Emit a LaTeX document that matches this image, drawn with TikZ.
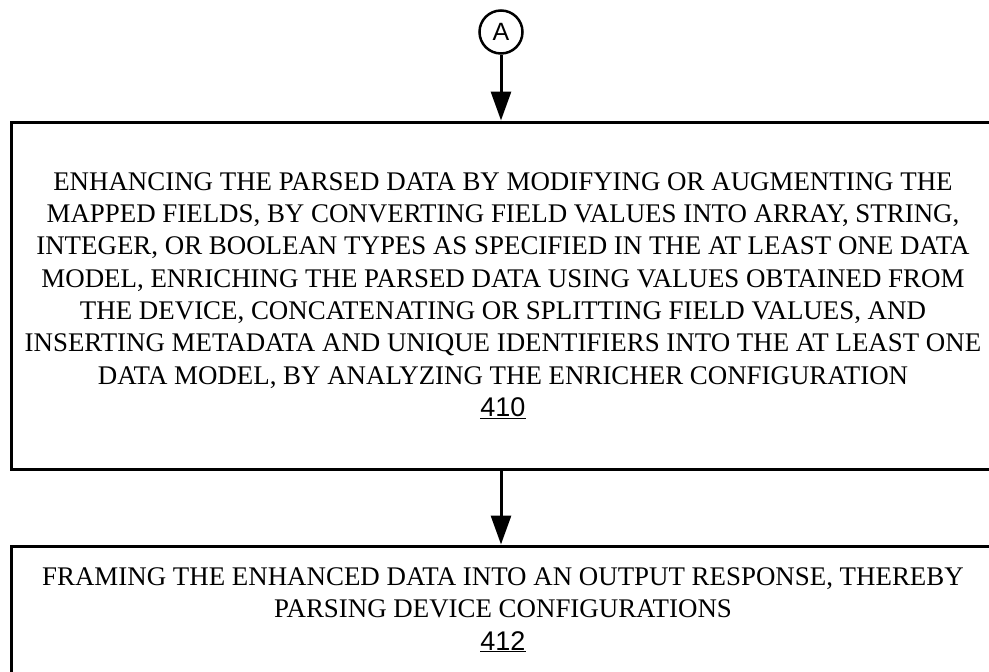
\documentclass[tikz,border=0pt]{standalone}
\usepackage{fontspec}
\setmainfont{Liberation Serif}
\newfontfamily\numfont{Liberation Sans}
\usetikzlibrary{arrows.meta}
\tikzset{
  stepbox/.style={draw, line width=3pt, align=center, inner sep=0pt,
    minimum width=984pt, font=\fontsize{26.9}{32.3}\selectfont},
  flow/.style={line width=3pt, -{Triangle[length=29pt, width=20pt]}},
  conn/.style={draw, circle, line width=2.5pt, minimum size=43pt, inner sep=0pt,
    font=\numfont\fontsize{25}{25}\selectfont},
}
\newcommand{\refnum}[1]{{\numfont\fontsize{27}{32.3}\selectfont\underline{#1}}}
\begin{document}
\begin{tikzpicture}[x=1pt, y=-1pt]
  \useasboundingbox (0,0) rectangle (989,672);
  \node[conn] (a) at (501,32) {A};
  \node[stepbox, minimum height=347pt] (s410) at (503,295.5) {%
    ENHANCING THE PARSED DATA BY MODIFYING OR AUGMENTING THE\\
    MAPPED FIELDS, BY CONVERTING FIELD VALUES INTO ARRAY, STRING,\\
    INTEGER, OR BOOLEAN TYPES AS SPECIFIED IN THE AT LEAST ONE DATA\\
    MODEL, ENRICHING THE PARSED DATA USING VALUES OBTAINED FROM\\
    THE DEVICE, CONCATENATING OR SPLITTING FIELD VALUES, AND\\
    INSERTING METADATA AND UNIQUE IDENTIFIERS INTO THE AT LEAST ONE\\
    DATA MODEL, BY ANALYZING THE ENRICHER CONFIGURATION\\
    \refnum{410}};
  \node[stepbox, minimum height=128pt] (s412) at (503,610) {%
    FRAMING THE ENHANCED DATA INTO AN OUTPUT RESPONSE, THEREBY\\
    PARSING DEVICE CONFIGURATIONS\\
    \refnum{412}};
  \draw[flow] (a.south) -- (a.south |- s410.north);
  \draw[flow] (a.south |- s410.south) -- (a.south |- s412.north);
\end{tikzpicture}
\end{document}
